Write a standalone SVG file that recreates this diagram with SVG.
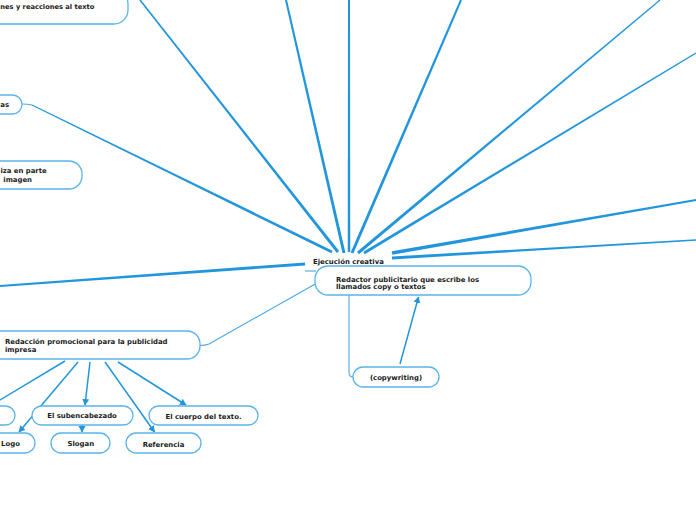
<svg xmlns="http://www.w3.org/2000/svg" width="696" height="520" viewBox="0 0 696 520">
<defs>
<style>
.bg{fill:#ffffff}
.node rect{fill:#ffffff;stroke:#5ab4ec;stroke-width:1.3}
.node text,.center text{font-family:"DejaVu Sans","Verdana",sans-serif;font-weight:bold;font-size:6.9px;fill:#1a1a1a}
.c text{text-anchor:middle}
.tp{fill:#2196dc;stroke:none}
.thin{fill:none;stroke:#4aa8e6;stroke-width:1.1}
.arr{fill:none;stroke:#2196dc;stroke-width:1.5;marker-end:url(#ah)}
.ln{fill:none;stroke:#2196dc;stroke-width:1.5}
</style>
<marker id="ah" markerUnits="userSpaceOnUse" markerWidth="8" markerHeight="8" refX="6" refY="3.5" orient="auto">
<path d="M0,0 L6.5,3.5 L0,7 Z" fill="#2196dc"/>
</marker>
</defs>
<rect class="bg" x="0" y="0" width="696" height="520"/>
<g id="connectors">
<polygon class="tp" points="345.46,252.67 286.98,-0.22 285.02,0.22 342.54,253.33"/>
<polygon class="tp" points="350.25,252 350,0 348,0 347.75,252"/>
<polygon class="tp" points="353.38,253.59 461.92,0.40 460.08,-0.40 350.62,252.41"/>
<polygon class="tp" points="358.96,254.15 660.39,0.46 659.61,-0.46 357.04,251.85"/>
<polygon class="tp" points="364.77,254.29 696.31,53.51 695.69,52.49 363.23,251.71"/>
<polygon class="tp" points="392.3,254.72 696.19,201.08 695.81,198.92 391.7,251.28"/>
<polygon class="tp" points="392.09,259.5 696.05,240.8 695.95,239.2 391.91,256.5"/>
<polygon class="tp" points="339.18,251.07 140.63,-0.49 139.37,0.49 336.82,252.93"/>
<polygon class="tp" points="332.66,250.65 32.22,104.55 31.78,105.45 331.34,253.35"/>
<path class="thin" d="M32,105 Q28,104 22,104"/>
<polygon class="tp" points="304.89,262.5 -0.07,285 0.07,287 305.11,265.5"/>
<path class="thin" d="M317,283 L209,344 Q205.5,345.5 200,345.5"/>
<path class="thin" d="M305,271 L316,271"/>
<path class="thin" d="M349,295 L349,372 Q349,377 353,377"/>
<path class="arr" d="M400,364 L418.5,297"/>
<path class="ln" d="M65,361 L-5,403"/>
<path class="arr" d="M78,362 L19,432"/>
<path class="arr" d="M90,362 L85,405"/>
<path class="arr" d="M82,425 L82,432"/>
<path class="arr" d="M105,362 L154.5,432"/>
<path class="arr" d="M118,362 L186,405"/>
</g>
<g id="n-reacciones" class="node">
<rect x="-30" y="-10" width="158" height="34" rx="14"/>
<text x="0.3" y="9" style="font-size:6.7px">nes y reacciones al texto</text>
</g>
<g id="n-as" class="node">
<rect x="-30" y="95" width="52" height="19" rx="9.5"/>
<text x="0.3" y="106.5">as</text>
</g>
<g id="n-imagen" class="node">
<rect x="-30" y="161" width="112" height="28" rx="13"/>
<text x="0.4" y="172.8">iza en parte</text>
<text x="3.3" y="181.8">imagen</text>
</g>
<g id="n-center" class="center">
<text x="313" y="264">Ejecución creativa</text>
</g>
<g id="n-redactor" class="node">
<rect x="315" y="266" width="216" height="29" rx="13"/>
<text x="336" y="281.5">Redactor publicitario que escribe los</text>
<text x="336" y="288.8">llamados copy o textos</text>
</g>
<g id="n-copywriting" class="node c">
<rect x="353" y="367" width="86" height="20" rx="10"/>
<text x="396" y="379.5">(copywriting)</text>
</g>
<g id="n-redaccion" class="node">
<rect x="-30" y="331" width="230" height="28" rx="13"/>
<text x="5" y="343.5">Redacción promocional para la publicidad</text>
<text x="5" y="352">impresa</text>
</g>
<g id="n-partial" class="node">
<rect x="-30" y="406" width="45" height="19" rx="9.5"/>
</g>
<g id="n-subencabezado" class="node c">
<rect x="32" y="406" width="101" height="19" rx="9.5"/>
<text x="82" y="418.3">El subencabezado</text>
</g>
<g id="n-cuerpo" class="node c">
<rect x="149" y="406" width="109" height="19" rx="9.5"/>
<text x="203.5" y="419">El cuerpo del texto.</text>
</g>
<g id="n-logo" class="node c">
<rect x="-20" y="433" width="55" height="20" rx="10"/>
<text x="10.5" y="446">Logo</text>
</g>
<g id="n-slogan" class="node c">
<rect x="51" y="433" width="59" height="20" rx="10"/>
<text x="80.8" y="446">Slogan</text>
</g>
<g id="n-referencia" class="node c">
<rect x="126" y="433" width="75" height="20" rx="10"/>
<text x="163.5" y="446.5">Referencia</text>
</g>
</svg>
